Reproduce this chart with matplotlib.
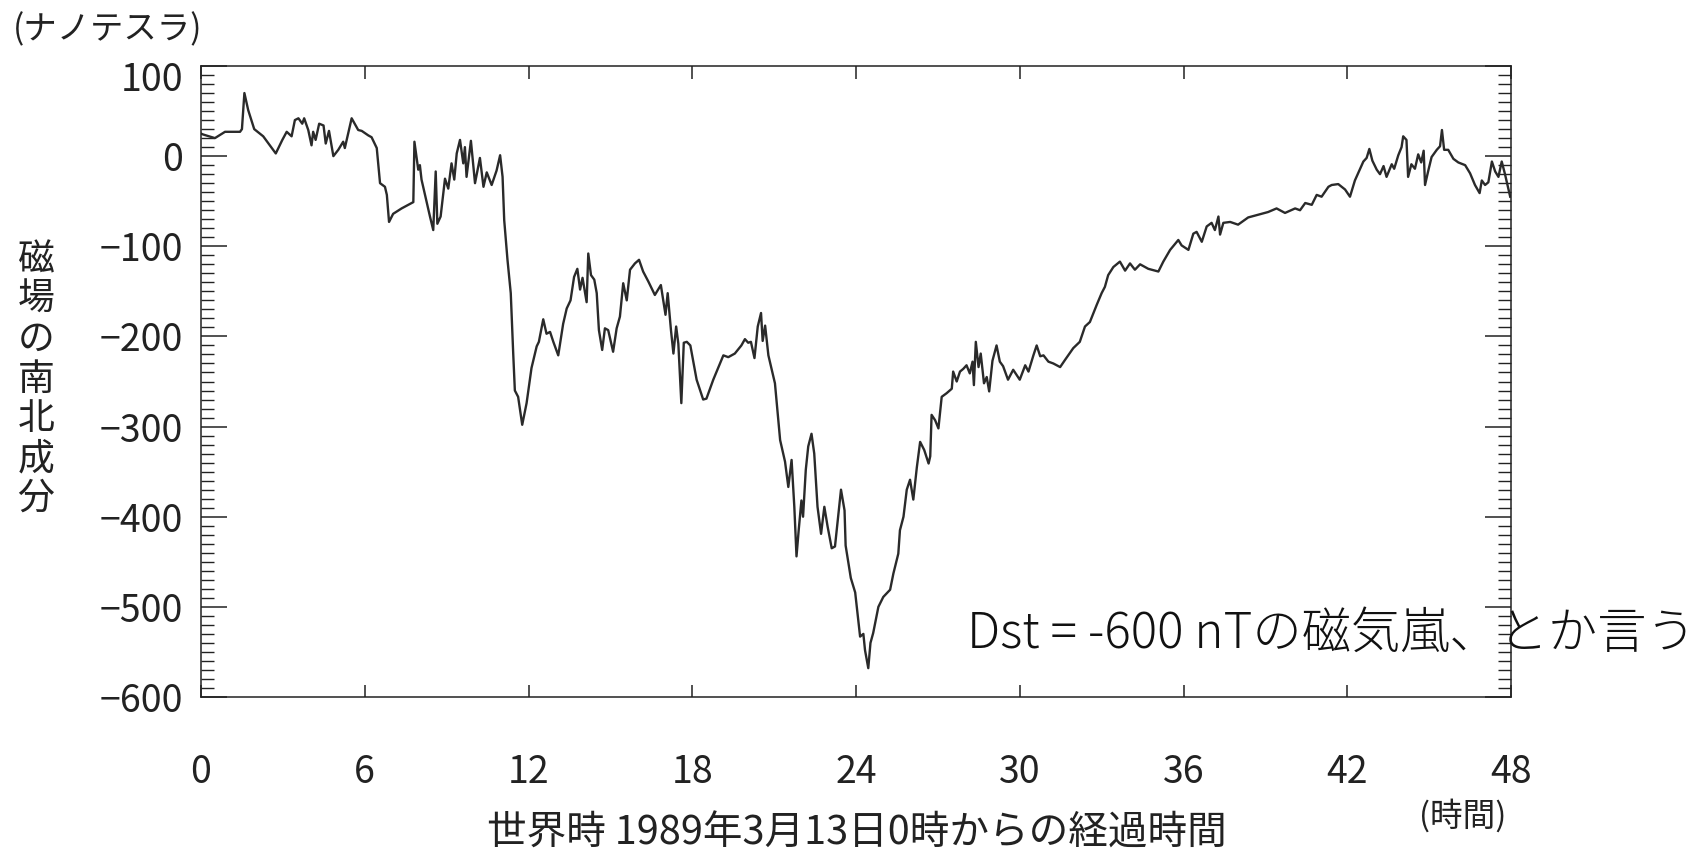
import matplotlib
matplotlib.use("Agg")
import matplotlib.pyplot as plt
from matplotlib.ticker import MultipleLocator
from matplotlib.transforms import ScaledTranslation

plt.rcParams["font.family"] = ["Noto Sans CJK JP", "DejaVu Sans"]

# hours since 1989-03-13 00:00 UT, southward field component (nT)
HOURS = [
    0.0, 0.08, 0.51, 0.88, 1.43, 1.50, 1.59, 1.73, 1.95, 2.28, 2.74, 2.98, 3.14, 3.32, 3.44,
    3.57, 3.71, 3.78, 3.93, 4.05, 4.11, 4.20, 4.33, 4.49, 4.57, 4.69, 4.85, 5.03, 5.21, 5.27,
    5.52, 5.76, 5.89, 6.13, 6.25, 6.44, 6.56, 6.74, 6.81, 6.89, 7.04, 7.35, 7.72, 7.78, 7.82,
    7.96, 8.02, 8.08, 8.39, 8.51, 8.60, 8.66, 8.78, 8.94, 9.06, 9.18, 9.28, 9.37, 9.49, 9.61,
    9.67, 9.73, 9.89, 10.04, 10.22, 10.35, 10.47, 10.65, 10.83, 10.96, 11.05, 11.11, 11.23,
    11.35, 11.44, 11.50, 11.62, 11.77, 11.93, 12.11, 12.30, 12.38, 12.54, 12.66, 12.79, 12.91,
    13.09, 13.27, 13.40, 13.54, 13.67, 13.79, 13.89, 13.98, 14.13, 14.19, 14.29, 14.41, 14.50,
    14.58, 14.70, 14.80, 14.92, 15.10, 15.23, 15.35, 15.47, 15.60, 15.72, 15.90, 16.05, 16.20,
    16.39, 16.63, 16.85, 17.02, 17.10, 17.22, 17.31, 17.41, 17.49, 17.60, 17.69, 17.80, 17.93,
    18.16, 18.40, 18.52, 18.77, 19.14, 19.32, 19.56, 19.80, 19.93, 20.05, 20.15, 20.28, 20.40,
    20.52, 20.58, 20.67, 20.79, 21.03, 21.22, 21.40, 21.52, 21.64, 21.74, 21.82, 21.90, 22.00,
    22.06, 22.16, 22.25, 22.37, 22.47, 22.59, 22.72, 22.84, 22.96, 23.11, 23.23, 23.45, 23.58,
    23.62, 23.81, 23.97, 24.15, 24.27, 24.33, 24.45, 24.53, 24.63, 24.82, 25.00, 25.25, 25.37,
    25.55, 25.61, 25.74, 25.86, 25.98, 26.10, 26.23, 26.35, 26.50, 26.66, 26.72, 26.77, 26.90,
    27.02, 27.14, 27.32, 27.51, 27.56, 27.69, 27.81, 27.93, 28.05, 28.17, 28.27, 28.32, 28.39,
    28.49, 28.57, 28.69, 28.79, 28.88, 29.00, 29.15, 29.27, 29.39, 29.57, 29.76, 30.00, 30.20,
    30.32, 30.50, 30.62, 30.75, 30.87, 31.05, 31.23, 31.48, 31.66, 31.96, 32.20, 32.39, 32.57,
    32.82, 33.00, 33.12, 33.24, 33.43, 33.67, 33.86, 34.04, 34.22, 34.41, 34.71, 35.08, 35.26,
    35.51, 35.81, 35.93, 36.18, 36.36, 36.48, 36.67, 36.85, 37.03, 37.15, 37.28, 37.34, 37.46,
    37.71, 38.00, 38.37, 38.74, 39.10, 39.41, 39.72, 40.09, 40.27, 40.46, 40.70, 40.88, 41.06,
    41.31, 41.43, 41.67, 41.92, 42.10, 42.28, 42.47, 42.59, 42.71, 42.81, 42.92, 43.08, 43.20,
    43.33, 43.44, 43.63, 43.72, 43.87, 43.99, 44.05, 44.17, 44.23, 44.35, 44.48, 44.60, 44.71,
    44.80, 44.85, 44.97, 45.09, 45.28, 45.40, 45.47, 45.55, 45.70, 45.89, 46.07, 46.32, 46.50,
    46.68, 46.85, 46.93, 47.05, 47.17, 47.30, 47.42, 47.54, 47.66, 47.78, 47.97,
]
FIELD_NT = [
    25, 24, 20, 27, 27, 30, 70, 51, 30, 22, 3, 18, 27, 22, 40,
    42, 36, 42, 29, 12, 27, 18, 36, 34, 14, 28, 0, 7, 16, 9,
    42, 29, 28, 23, 21, 9, -30, -34, -43, -73, -64, -58, -52, -51, 16,
    -15, -10, -26, -67, -82, -17, -75, -67, -25, -36, -8, -26, 3, 18, -8,
    10, -23, 17, -30, -2, -34, -18, -32, -16, 1, -23, -71, -115,
    -152, -219, -260, -267, -298, -274, -235, -211, -206, -181, -197, -195, -206,
    -221, -186, -169, -160, -134, -125, -148, -135, -162, -108, -132, -137, -152,
    -193, -215, -191, -193, -217, -191, -178, -141, -160, -126, -119, -115, -128,
    -139, -154, -143, -176, -152, -193, -219, -189, -208, -274, -207, -206, -210,
    -248, -270, -269, -248, -221, -223, -219, -210, -203, -207, -206, -224, -189,
    -174, -205, -188, -221, -252, -315, -339, -367, -337, -389, -444, -415, -382,
    -400, -348, -322, -308, -330, -389, -419, -389, -411, -435, -433, -370, -393,
    -432, -468, -484, -533, -530, -548, -568, -540, -529, -500, -489, -481, -463,
    -441, -415, -400, -370, -359, -381, -345, -317, -326, -341, -333, -287, -293,
    -302, -267, -263, -258, -239, -250, -239, -236, -232, -241, -228, -254, -206,
    -234, -219, -252, -245, -261, -227, -210, -228, -233, -248, -237, -248, -232,
    -239, -221, -210, -222, -221, -228, -230, -234, -226, -213, -206, -189, -184,
    -165, -152, -145, -132, -123, -117, -127, -119, -126, -120, -125, -128, -117,
    -104, -93, -99, -104, -86, -84, -95, -78, -74, -82, -67, -87, -74,
    -73, -76, -68, -65, -62, -58, -63, -58, -60, -52, -54, -43, -45,
    -34, -32, -31, -37, -45, -27, -14, -6, -2, 8, -5, -15, -20,
    -11, -23, -9, -14, 1, 10, 22, 18, -23, -9, -14, 2, -7,
    6, -32, -16, -1, 7, 11, 29, 7, 7, -3, -7, -10, -19,
    -32, -41, -27, -32, -29, -6, -17, -23, -6, -20, -45,
]
X_TICKS = list(range(0, 49, 6))
Y_TICKS = list(range(-600, 101, 100))
Y_LABEL = "磁場の南北成分"

W, H = 1704, 856
fig = plt.figure(figsize=(W / 100, H / 100), dpi=100)
ax = fig.add_axes([201 / W, 1 - 697 / H, (1511 - 201) / W, (697 - 66) / H])

ax.plot(HOURS, FIELD_NT, color="#2a2a2a", lw=1.7)
ax.set_xlim(0, 48)
ax.set_ylim(-600, 100)
ax.set_xticks(X_TICKS)
ax.set_yticks(Y_TICKS)
ax.yaxis.set_minor_locator(MultipleLocator(10))

for s in ax.spines.values():
    s.set_linewidth(1.1)
    s.set_color("#222222")

ax.tick_params(axis="x", which="major", direction="in", top=True, bottom=True,
               length=9, width=1.1, pad=40, labelsize=27, colors="#222222")
ax.tick_params(axis="y", which="major", direction="in", left=True, right=True,
               length=19, width=1.1, pad=13, labelsize=27, colors="#222222")
ax.tick_params(axis="y", which="minor", direction="in", left=True, right=True,
               length=9.5, width=1.0, colors="#222222")

# the top label sits a little lower than its tick in the original
top_label = ax.get_yticklabels()[-1]
top_label.set_transform(top_label.get_transform() + ScaledTranslation(0, -0.10, fig.dpi_scale_trans))

fig.text(13 / W, 1 - 30 / H, "(ナノテスラ)", fontsize=24, ha="left", va="center", color="#222222")
for i, ch in enumerate(Y_LABEL):
    fig.text(36 / W, 1 - (260 + i * 39.7) / H, ch, fontsize=26.5,
             ha="center", va="center", color="#222222")
fig.text(857 / W, 1 - 834 / H, "世界時 1989年3月13日0時からの経過時間", fontsize=28.5,
         ha="center", va="center", color="#222222")
fig.text(1463 / W, 1 - 816 / H, "(時間)", fontsize=23.5, ha="center", va="center", color="#222222")
fig.text(967 / W, 1 - 634 / H, "Dst = -600 nTの磁気嵐、とか言う", fontsize=35.5,
         fontweight="light", ha="left", va="center", color="#111111")

fig.savefig("out.png", dpi=100)
